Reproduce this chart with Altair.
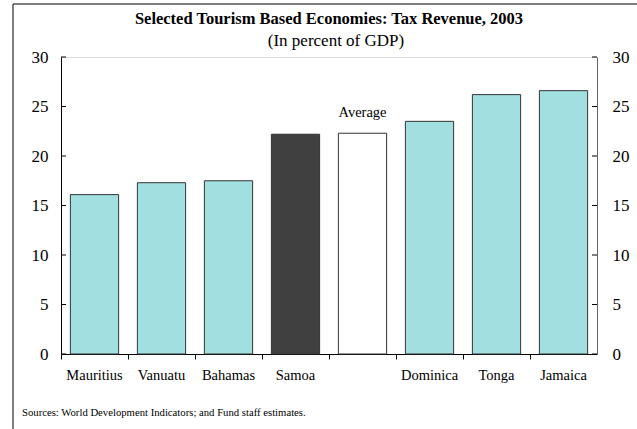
import altair as alt
import pandas as pd

countries = ["Mauritius", "Vanuatu", "Bahamas", "Samoa", "Average", "Dominica", "Tonga", "Jamaica"]
values = [16.1, 17.3, 17.5, 22.2, 22.3, 23.5, 26.2, 26.6]
groups = ["other", "other", "other", "Samoa", "Average", "other", "other", "other"]
y_ticks = [0, 5, 10, 15, 20, 25, 30]
title_text = "Selected Tourism Based Economies: Tax Revenue, 2003"
subtitle_text = "(In percent of GDP)"
source_text = "Sources: World Development Indicators; and Fund staff estimates."

df = pd.DataFrame({"country": countries, "value": values, "group": groups})
df["label"] = ["Average" if c == "Average" else "" for c in countries]
ticks_df = pd.DataFrame({"t": y_ticks})

W, H = 536, 297
FONT = "Liberation Serif"

yscale = alt.Scale(domain=[0, 30], nice=False)
x_plain = alt.X("country:N", sort=countries)

bars = alt.Chart(df).mark_bar(width={"band": 0.72}, stroke="#333333", strokeWidth=1).encode(
    x=alt.X(
        "country:N", sort=countries,
        scale=alt.Scale(paddingInner=0, paddingOuter=0),
        axis=alt.Axis(
            title=None, bandPosition=0, labelAngle=0,
            labelExpr="datum.value == 'Average' ? '' : datum.value",
            tickSize=5, tickColor="black", domainColor="black",
            labelFont=FONT, labelFontSize=14.5, labelColor="black", labelPadding=9,
        ),
    ),
    y=alt.Y("value:Q", scale=yscale, axis=alt.Axis(
        title=None, values=y_ticks, grid=False, orient="left",
        ticks=False, tickSize=0, domainColor="black",
        labelFont=FONT, labelFontSize=17, labelColor="black", labelPadding=13)),
    color=alt.Color("group:N", scale=alt.Scale(
        domain=["other", "Samoa", "Average"],
        range=["#a2dfe0", "#404040", "#ffffff"]), legend=None),
)

right = alt.Chart(df).mark_bar(opacity=0).encode(
    x=x_plain,
    y=alt.Y("value:Q", scale=yscale, axis=alt.Axis(
        title=None, values=y_ticks, grid=False, orient="right",
        ticks=False, tickSize=0, domainColor="#666666",
        labelFont=FONT, labelFontSize=17, labelColor="black", labelPadding=15)),
)

left_ticks = alt.Chart(ticks_df).mark_rule(color="black", strokeWidth=1).encode(
    y=alt.Y("t:Q", scale=yscale, axis=None), x=alt.value(0), x2=alt.value(5))
right_ticks = alt.Chart(ticks_df).mark_rule(color="black", strokeWidth=1).encode(
    y=alt.Y("t:Q", scale=yscale, axis=None), x=alt.value(W - 5), x2=alt.value(W))

avg_text = alt.Chart(df).mark_text(font=FONT, fontSize=14.5, dy=-20, color="black").encode(
    x=x_plain,
    y=alt.Y("value:Q", scale=yscale, axis=None),
    text="label:N",
)

title = alt.Chart(pd.DataFrame({"t": [title_text]})).mark_text(
    font=FONT, fontSize=16.5, fontWeight="bold", align="center", baseline="alphabetic", color="black"
).encode(x=alt.value(268), y=alt.value(-33), text="t:N")
subtitle = alt.Chart(pd.DataFrame({"t": [subtitle_text]})).mark_text(
    font=FONT, fontSize=17, align="center", baseline="alphabetic", color="black"
).encode(x=alt.value(275), y=alt.value(-11), text="t:N")

src = alt.Chart(pd.DataFrame({"t": [source_text]})).mark_text(
    font=FONT, fontSize=10.7, align="left", baseline="middle", color="black"
).encode(x=alt.value(-39), y=alt.value(H + 59), text="t:N")

border_left = alt.Chart(pd.DataFrame({"a": [0]})).mark_rule(color="black", strokeWidth=1).encode(
    x=alt.value(-48), y=alt.value(-53), y2=alt.value(H + 80))
border_top = alt.Chart(pd.DataFrame({"a": [0]})).mark_rule(color="black", strokeWidth=1).encode(
    x=alt.value(-48), x2=alt.value(W + 45), y=alt.value(-53))

chart = alt.layer(
    bars, right, left_ticks, right_ticks, avg_text, title, subtitle, src, border_left, border_top
).resolve_axis(
    y="independent"
).properties(
    width=W, height=H,
    autosize=alt.AutoSizeParams(type="none"),
    padding={"left": 61, "top": 57, "right": 40, "bottom": 75},
).configure_view(stroke="#888888", strokeWidth=1).configure(background="white")

chart.save("out.html", embed_options={"renderer": "svg", "actions": False})
